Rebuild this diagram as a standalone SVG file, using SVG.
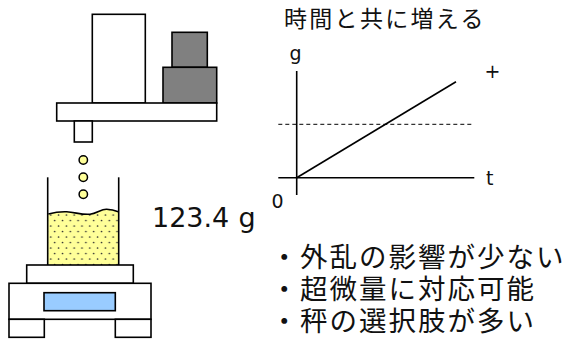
<svg xmlns="http://www.w3.org/2000/svg" width="571" height="342" viewBox="0 0 571 342">
  <defs>
    <!-- speckled powder fill -->
    <pattern id="powder" patternUnits="userSpaceOnUse" x="48.3" y="212" width="7.8" height="11">
      <rect width="7.8" height="11" fill="#FFFF99"/>
      <circle cx="2.5" cy="3" r="0.85" fill="#333"/>
      <circle cx="6.4" cy="8.5" r="0.85" fill="#333"/>
    </pattern>
  </defs>
  <style>
    .ln { stroke: #000; stroke-width: 1.6; }
    .box { fill: #fff; stroke: #000; stroke-width: 1.6; }
    .dark { fill: #808080; stroke: #000; stroke-width: 1.6; }
    .lat { font-family: "DejaVu Sans", Verdana, sans-serif; fill: #111; }
    .jp { font-family: "Noto Sans CJK JP", "Noto Sans", sans-serif; fill: #111; }
  </style>

  <rect width="571" height="342" fill="#fff"/>

  <!-- dispenser head with weights -->
  <g id="dispenser">
    <rect class="box" x="92.3" y="14.3" width="53" height="88.7"/>
    <rect class="dark" x="172" y="32.3" width="35.3" height="35"/>
    <rect class="dark" x="163" y="67.3" width="53.7" height="35.7"/>
    <rect class="box" x="56.7" y="103" width="160" height="18"/>
    <rect class="box" x="74.3" y="121" width="18" height="21"/>
  </g>

  <!-- falling drops -->
  <g id="drops" fill="#FFFF99" stroke="#000" stroke-width="1.5">
    <circle cx="83.3" cy="160" r="4.2"/>
    <circle cx="83.3" cy="177.3" r="4.2"/>
    <circle cx="83.3" cy="194.3" r="4.2"/>
  </g>

  <!-- beaker with powder -->
  <g id="beaker">
    <path d="M48.3,214 C56,212 60,211.5 66.7,211.8 C75,212.2 82,215 90,214.2 C97,213.5 101,209 106.7,209.3 C112,209.6 115,210.5 118.3,211.7 L118.3,265 L48.3,265 Z" fill="url(#powder)" stroke="none"/>
    <path d="M48.3,214 C56,212 60,211.5 66.7,211.8 C75,212.2 82,215 90,214.2 C97,213.5 101,209 106.7,209.3 C112,209.6 115,210.5 118.3,211.7" fill="none" class="ln"/>
    <line class="ln" x1="47.7" y1="177.3" x2="47.7" y2="265"/>
    <line class="ln" x1="118.7" y1="177.3" x2="118.7" y2="265"/>
  </g>

  <!-- balance -->
  <g id="balance">
    <rect class="box" x="26.7" y="265" width="106.6" height="18.3"/>
    <rect class="box" x="9" y="283.3" width="142" height="36"/>
    <rect x="44" y="292.7" width="71.3" height="18" fill="#99CCFF" stroke="#000" stroke-width="1.6"/>
    <rect class="box" x="9" y="319.3" width="35.3" height="18"/>
    <rect class="box" x="115.3" y="319.3" width="35.7" height="18"/>
  </g>

  <!-- reading -->
  <g id="reading">
    <text class="lat" x="152" y="226.7" font-size="27">123.4</text>
    <text class="lat" x="238.5" y="226.7" font-size="27">g</text>
  </g>

  <!-- weight vs time plot -->
  <g id="graph">
    <text class="jp" x="284" y="27" font-size="23" letter-spacing="2.3">時間と共に増える</text>
    <line class="ln" x1="296.7" y1="71" x2="296.7" y2="195" stroke-width="2"/>
    <line class="ln" x1="278.3" y1="177.7" x2="474.3" y2="177.7" stroke-width="2"/>
    <line x1="278.3" y1="124.3" x2="474.3" y2="124.3" stroke="#000" stroke-width="1" stroke-dasharray="4,3"/>
    <line class="ln" x1="296.7" y1="177.7" x2="456" y2="81.7" stroke-width="2"/>
    <text class="lat" x="289.5" y="60.4" font-size="19">g</text>
    <text class="lat" x="484.5" y="78" font-size="19">+</text>
    <text class="lat" x="486" y="185" font-size="19">t</text>
    <text class="lat" x="271.5" y="208.3" font-size="19">0</text>
  </g>

  <!-- advantages -->
  <g id="notes" class="jp" font-size="27.5" letter-spacing="2">
    <text x="270.5" y="266.5">・外乱の影響が少ない</text>
    <text x="270.5" y="298.5">・超微量に対応可能</text>
    <text x="270.5" y="330.5">・秤の選択肢が多い</text>
  </g>
</svg>
